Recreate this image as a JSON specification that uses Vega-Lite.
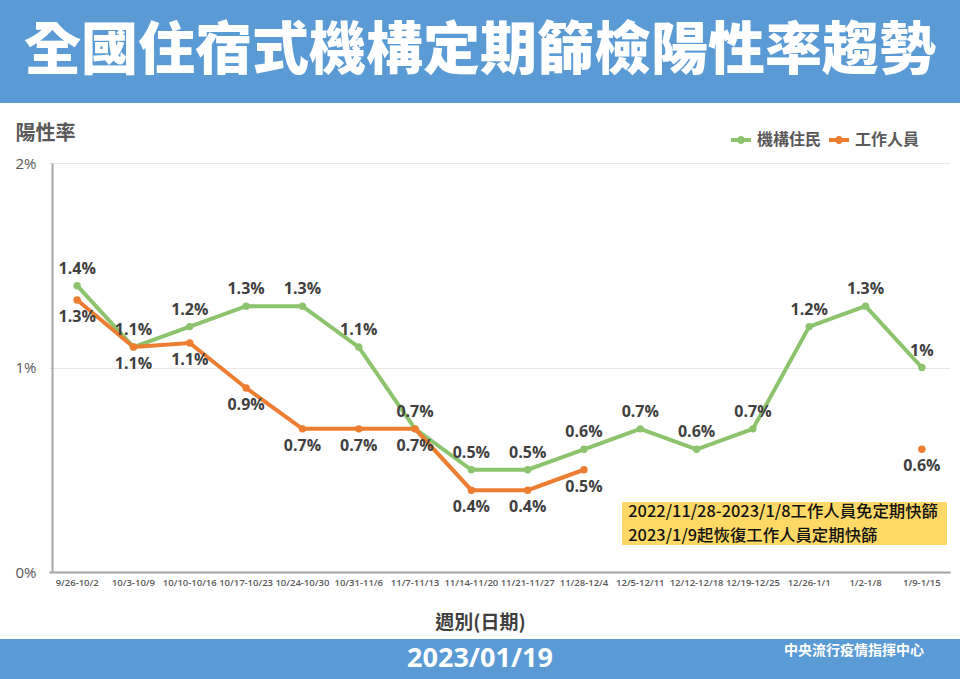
{
  "$schema": "https://vega.github.io/schema/vega-lite/v6.json",
  "padding": 0,
  "autosize": {"type": "pad"},
  "background": "#ffffff",
  "spacing": 0,
  "bounds": "flush",
  "config": {
    "view": {"stroke": null},
    "font": "Open Sans, Noto Sans CJK TC",
    "text": {"font": "Open Sans, Noto Sans CJK TC"}
  },
  "datasets": {
    "rates": [
      {"week": "9/26-10/2", "series": "機構住民", "rate": 0.014},
      {"week": "10/3-10/9", "series": "機構住民", "rate": 0.011},
      {"week": "10/10-10/16", "series": "機構住民", "rate": 0.012},
      {"week": "10/17-10/23", "series": "機構住民", "rate": 0.013},
      {"week": "10/24-10/30", "series": "機構住民", "rate": 0.013},
      {"week": "10/31-11/6", "series": "機構住民", "rate": 0.011},
      {"week": "11/7-11/13", "series": "機構住民", "rate": 0.007},
      {"week": "11/14-11/20", "series": "機構住民", "rate": 0.005},
      {"week": "11/21-11/27", "series": "機構住民", "rate": 0.005},
      {"week": "11/28-12/4", "series": "機構住民", "rate": 0.006},
      {"week": "12/5-12/11", "series": "機構住民", "rate": 0.007},
      {"week": "12/12-12/18", "series": "機構住民", "rate": 0.006},
      {"week": "12/19-12/25", "series": "機構住民", "rate": 0.007},
      {"week": "12/26-1/1", "series": "機構住民", "rate": 0.012},
      {"week": "1/2-1/8", "series": "機構住民", "rate": 0.013},
      {"week": "1/9-1/15", "series": "機構住民", "rate": 0.010},
      {"week": "9/26-10/2", "series": "工作人員", "rate": 0.0133},
      {"week": "10/3-10/9", "series": "工作人員", "rate": 0.011},
      {"week": "10/10-10/16", "series": "工作人員", "rate": 0.0112},
      {"week": "10/17-10/23", "series": "工作人員", "rate": 0.009},
      {"week": "10/24-10/30", "series": "工作人員", "rate": 0.007},
      {"week": "10/31-11/6", "series": "工作人員", "rate": 0.007},
      {"week": "11/7-11/13", "series": "工作人員", "rate": 0.007},
      {"week": "11/14-11/20", "series": "工作人員", "rate": 0.004},
      {"week": "11/21-11/27", "series": "工作人員", "rate": 0.004},
      {"week": "11/28-12/4", "series": "工作人員", "rate": 0.005},
      {"week": "1/9-1/15", "series": "工作人員", "rate": 0.006}
    ]
  },
  "vconcat": [
    {
      "width": 960,
      "height": 103,
      "view": {"fill": "#5b9bd5", "stroke": null},
      "data": {"values": [{"t": "全國住宿式機構定期篩檢陽性率趨勢"}]},
      "mark": {"type": "text", "font": "Noto Sans CJK TC", "fontSize": 57, "fontWeight": 900, "color": "#ffffff", "baseline": "middle", "align": "center"},
      "encoding": {"text": {"field": "t"}}
    },
    {
      "width": 960,
      "height": 536,
      "data": {"name": "rates"},
      "encoding": {
        "x": {
          "field": "week", "type": "nominal", "sort": null,
          "scale": {"type": "band", "range": [49, 950], "paddingInner": 0, "paddingOuter": 0,
            "domain": ["9/26-10/2","10/3-10/9","10/10-10/16","10/17-10/23","10/24-10/30","10/31-11/6","11/7-11/13","11/14-11/20","11/21-11/27","11/28-12/4","12/5-12/11","12/12-12/18","12/19-12/25","12/26-1/1","1/2-1/8","1/9-1/15"]},
          "axis": {
            "orient": "bottom", "offset": -67, "labelAngle": 0, "ticks": false,
            "domainColor": "#a6a6a6", "domainWidth": 2,
            "labelFontSize": 9.5, "labelFontWeight": 600, "labelColor": "#595959", "labelPadding": 5,
            "title": "週別(日期)", "titleFontSize": 19, "titleFontWeight": "bold", "titleColor": "#404040",
            "titleX": 480, "titleY": 50, "titleAlign": "center", "titleBaseline": "middle",
            "titleFont": "Noto Sans CJK TC"
          }
        },
        "y": {
          "field": "rate", "type": "quantitative",
          "scale": {"domain": [0, 0.02], "range": [469, 60], "nice": false, "zero": true},
          "axis": {
            "orient": "left", "offset": -52, "values": [0, 0.01, 0.02], "format": "~%",
            "ticks": false, "domainColor": "#a6a6a6", "domainWidth": 2,
            "grid": true, "gridColor": "#e6e6e6", "gridWidth": 1,
            "labelFontSize": 15, "labelColor": "#595959", "labelPadding": 16,
            "title": "陽性率", "titleAngle": 0, "titleX": -37, "titleY": 30, "titleAlign": "left", "titleBaseline": "middle",
            "titleFontSize": 20, "titleFontWeight": "bold", "titleColor": "#595959", "titleFont": "Noto Sans CJK TC"
          }
        },
        "color": {
          "field": "series", "type": "nominal",
          "scale": {"domain": ["機構住民", "工作人員"], "range": ["#8cc46e", "#ed7d31"]},
          "legend": {
            "orient": "none", "legendX": 731, "legendY": 130, "direction": "horizontal", "title": null,
            "symbolType": "M-1,-0.2L1,-0.2L1,0.2L-1,0.2Z M-0.4,0A0.4,0.4,0,1,1,0.4,0A0.4,0.4,0,1,1,-0.4,0Z",
            "symbolSize": 400, "labelFontSize": 16, "labelFontWeight": "bold", "labelColor": "#595959",
            "labelFont": "Noto Sans CJK TC", "labelOffset": 6, "columnPadding": 7,
            "encode": {"symbols": {"update": {"fill": {"scale": "color", "field": "value"}, "strokeWidth": {"value": 0}}}}
          }
        }
      },
      "layer": [
        {
          "mark": {"type": "rect", "color": "#ffd966", "xOffset": -18, "x2Offset": 25},
          "encoding": {
            "x": {"datum": "12/5-12/11"},
            "x2": {"datum": "1/9-1/15"},
            "y": {"datum": 0.00342},
            "y2": {"datum": 0.00132},
            "color": {"value": "#ffd966"}
          }
        },
        {
          "transform": [{"filter": "!(datum.series == '工作人員' && datum.week == '1/9-1/15')"}],
          "mark": {"type": "line", "strokeWidth": 4}
        },
        {
          "mark": {"type": "point", "filled": true, "size": 55, "opacity": 1}
        },
        {
          "transform": [{"filter": "datum.series == '機構住民'"}],
          "mark": {"type": "text", "dy": -17, "fontSize": 16, "fontWeight": "bold", "color": "#404040"},
          "encoding": {"text": {"field": "rate", "format": ".1~%"}, "color": {"value": "#404040"}}
        },
        {
          "transform": [{"filter": "datum.series == '工作人員'"}],
          "mark": {"type": "text", "dy": 17, "fontSize": 16, "fontWeight": "bold", "color": "#404040"},
          "encoding": {"text": {"field": "rate", "format": ".1~%"}, "color": {"value": "#404040"}}
        },
        {
          "transform": [{"filter": "datum.series == '機構住民' && datum.week == '12/5-12/11'"}],
          "mark": {"type": "text", "align": "left", "baseline": "middle", "dx": -12, "fontSize": 16.4, "fontWeight": 500, "font": "Noto Sans CJK TC", "color": "#111111"},
          "encoding": {
            "y": {"datum": 0.00293},
            "text": {"value": "2022/11/28-2023/1/8工作人員免定期快篩"},
            "color": {"value": "#111111"}
          }
        },
        {
          "transform": [{"filter": "datum.series == '機構住民' && datum.week == '12/5-12/11'"}],
          "mark": {"type": "text", "align": "left", "baseline": "middle", "dx": -12, "fontSize": 16.4, "fontWeight": 500, "font": "Noto Sans CJK TC", "color": "#111111"},
          "encoding": {
            "y": {"datum": 0.00178},
            "text": {"value": "2023/1/9起恢復工作人員定期快篩"},
            "color": {"value": "#111111"}
          }
        }
      ]
    },
    {
      "width": 960,
      "height": 40,
      "view": {"fill": "#5b9bd5", "stroke": null},
      "layer": [
        {
          "data": {"values": [{"t": "2023/01/19"}]},
          "mark": {"type": "text", "fontSize": 27, "fontWeight": "bold", "color": "#ffffff", "baseline": "middle", "align": "center", "font": "Open Sans"},
          "encoding": {"text": {"field": "t"}}
        },
        {
          "data": {"values": [{"t": "中央流行疫情指揮中心"}]},
          "mark": {"type": "text", "fontSize": 14, "fontWeight": "bold", "color": "#ffffff", "baseline": "middle", "align": "center", "dx": 374, "dy": -8, "font": "Noto Sans CJK TC"},
          "encoding": {"text": {"field": "t"}}
        }
      ]
    }
  ]
}
